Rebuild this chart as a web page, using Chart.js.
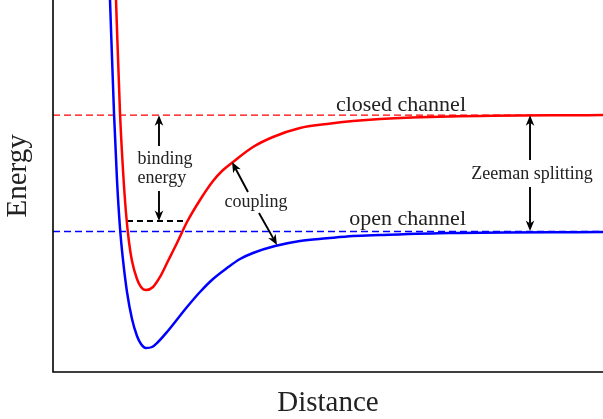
<!DOCTYPE html>
<html><head><meta charset="utf-8">
<script src="https://cdn.jsdelivr.net/npm/chart.js@4/dist/chart.umd.min.js"></script>
<style>html,body{margin:0;padding:0;background:#fff;}</style>
</head><body>
<canvas id="c" width="603" height="419"></canvas>
<script>
// ---- data (arbitrary units) ----
const distanceOpen = [1.0236,1.0364,1.1091,1.1636,1.2182,1.2727,1.3455,1.4364,1.5273,1.6000,1.6909,1.8000,1.9091,2.0727,2.4364,2.6727,2.9091,3.1636,3.4000,3.6364,4.0364,4.4909,4.9818,5.4545,5.9455,7.2182,10.000];
const energyOpen   = [10.538,10.000,6.962,5.161,3.871,3.011,2.151,1.425,0.968,0.753,0.645,0.672,0.806,1.075,1.747,2.151,2.500,2.796,3.038,3.199,3.387,3.522,3.594,3.656,3.683,3.737,3.763];
const distanceClosed = [1.1327,1.1455,1.2182,1.2727,1.3273,1.3818,1.4364,1.5273,1.6000,1.6909,1.8182,1.9455,2.0909,2.2545,2.4364,2.6727,2.9091,3.0727,3.2727,3.6364,4.0000,4.4909,4.9818,5.4545,5.9455,7.2182,10.000];
const energyClosed   = [10.538,10.000,6.962,5.430,4.274,3.495,2.984,2.500,2.285,2.204,2.285,2.554,2.984,3.468,4.032,4.624,5.134,5.403,5.645,6.048,6.317,6.559,6.667,6.747,6.801,6.868,6.909];
const closedThreshold = 6.905;
const openThreshold = 3.777;
const boundStateEnergy = 4.059;
const boundStateDistance = [1.345, 2.400];
const distanceRange = [0, 10];
const energyRange = [0, 10];

// arrows: [tailX, tailY, tipX, tipY] in data units
const arrows = [
  [1.927, 6.075, 1.927, 6.905],
  [1.927, 4.866, 1.927, 4.059],
  [3.545, 4.839, 3.255, 5.645],
  [3.745, 4.274, 4.073, 3.414],
  [8.673, 5.699, 8.673, 6.905],
  [8.673, 4.973, 8.673, 3.790]
];
// text labels
const labelText = ['closed channel','open channel','binding','energy','coupling','Zeeman splitting'];
const labelX    = [7.509, 7.509, 1.536, 1.536, 3.691, 8.709];
const labelY    = [7.016, 3.952, 5.591, 5.081, 4.435, 5.188];
const xAxisTitle = 'Distance';
const yAxisTitle = 'Energy';

const pts = (xs, ys) => xs.map((x, i) => ({x: x, y: ys[i]}));

const annot = {
  id: 'annot',
  afterDatasetsDraw(chart) {
    const {ctx, chartArea: a, scales: {x, y}} = chart;
    ctx.save();
    // spines
    ctx.strokeStyle = '#000';
    ctx.lineWidth = 1.6;
    ctx.setLineDash([]);
    ctx.beginPath();
    ctx.moveTo(a.left, a.top);
    ctx.lineTo(a.left, a.bottom);
    ctx.lineTo(a.right, a.bottom);
    ctx.stroke();
    // arrows
    ctx.fillStyle = '#000';
    ctx.lineWidth = 1.9;
    arrows.forEach(([tx, ty, hx, hy]) => {
      const x1 = x.getPixelForValue(tx), y1 = y.getPixelForValue(ty);
      const x2 = x.getPixelForValue(hx), y2 = y.getPixelForValue(hy);
      const dx = x2 - x1, dy = y2 - y1, len = Math.hypot(dx, dy);
      const ux = dx / len, uy = dy / len, L = 10.5, W = 4.3;
      ctx.beginPath();
      ctx.moveTo(x1, y1);
      ctx.lineTo(x2 - ux * L * 0.7, y2 - uy * L * 0.7);
      ctx.stroke();
      ctx.beginPath();
      ctx.moveTo(x2, y2);
      ctx.lineTo(x2 - ux * L - uy * W, y2 - uy * L + ux * W);
      ctx.lineTo(x2 - ux * L * 0.72, y2 - uy * L * 0.72);
      ctx.lineTo(x2 - ux * L + uy * W, y2 - uy * L - ux * W);
      ctx.closePath();
      ctx.fill();
    });
    // labels
    ctx.fillStyle = '#222';
    ctx.textBaseline = 'alphabetic';
    labelText.forEach((t, i) => {
      const big = i < 2;
      ctx.font = (big ? '22px' : '18px') + ' "Liberation Serif", serif';
      ctx.textAlign = big ? 'right' : (i === 2 || i === 3 ? 'left' : 'center');
      ctx.fillText(t, x.getPixelForValue(labelX[i]), y.getPixelForValue(labelY[i]));
    });
    // axis titles
    ctx.font = '29px "Liberation Serif", serif';
    ctx.textAlign = 'center';
    ctx.fillText(xAxisTitle, (a.left + a.right) / 2, a.bottom + 39);
    ctx.translate(a.left - 27, y.getPixelForValue(5.27));
    ctx.rotate(-Math.PI / 2);
    ctx.fillText(yAxisTitle, 0, 0);
    ctx.restore();
  }
};

new Chart(document.getElementById('c'), {
  type: 'line',
  data: {
    datasets: [
      {data: pts(distanceOpen, energyOpen), borderColor: '#0000ff', borderWidth: 2.5, cubicInterpolationMode: 'monotone', order: 0},
      {data: pts(distanceClosed, energyClosed), borderColor: '#ff0000', borderWidth: 2.5, cubicInterpolationMode: 'monotone', order: 0},
      {data: pts(distanceRange, [closedThreshold, closedThreshold]), borderColor: '#ff0000', borderWidth: 1.4, borderDash: [7, 4], order: 1},
      {data: pts(distanceRange, [openThreshold, openThreshold]), borderColor: '#0000ff', borderWidth: 1.4, borderDash: [7, 4], order: 1},
      {data: pts(boundStateDistance, [boundStateEnergy, boundStateEnergy]), borderColor: '#000', borderWidth: 1.8, borderDash: [6, 4], order: 1}
    ]
  },
  options: {
    responsive: false,
    animation: false,
    events: [],
    layout: {padding: {left: 53, right: 0, top: 0, bottom: 47}},
    elements: {point: {radius: 0}, line: {fill: false}},
    plugins: {legend: {display: false}, tooltip: {enabled: false}},
    scales: {
      x: {type: 'linear', min: distanceRange[0], max: distanceRange[1], display: false},
      y: {type: 'linear', min: energyRange[0], max: energyRange[1], display: false}
    }
  },
  plugins: [annot]
});
</script>
</body></html>
